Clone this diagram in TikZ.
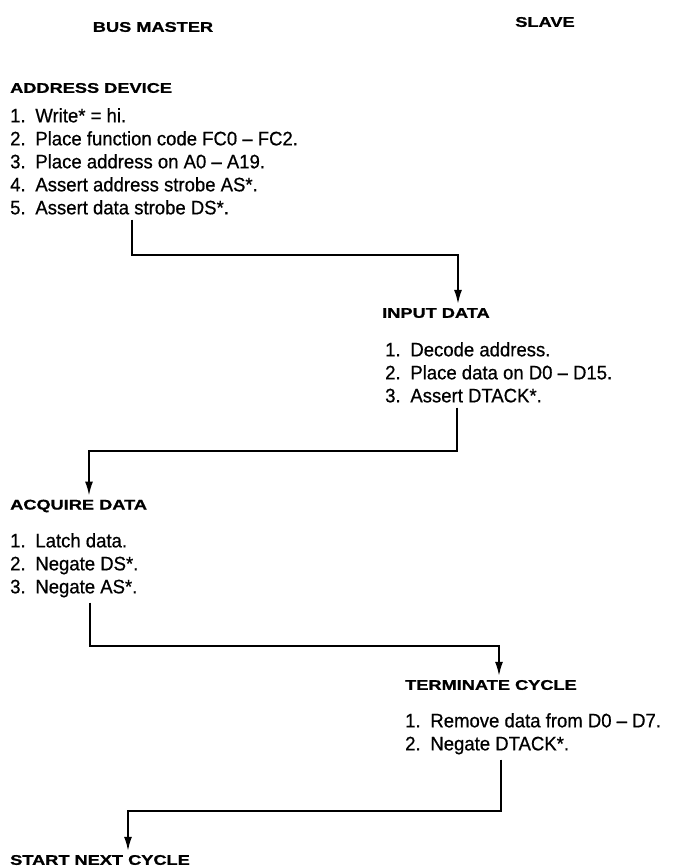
\documentclass[tikz,border=0pt]{standalone}
\usepackage{fontspec}
\setmainfont{Liberation Sans}
\newfontfamily\headfont[FakeStretch=1.3,FakeBold=1]{Liberation Sans}
\newfontfamily\itemfont[FakeStretch=0.95,FakeBold=0.6]{Liberation Sans}
\usetikzlibrary{positioning,arrows.meta}
\newcommand{\nr}[1]{#1.\hspace{0.5em}}
\tikzset{
  colhead/.style ={anchor=center, inner sep=0pt, font=\headfont\bfseries\fontsize{14}{16}\selectfont},
  stephead/.style ={anchor=west, inner xsep=0pt, inner ysep=4pt, font=\headfont\bfseries\fontsize{14}{16}\selectfont},
  steplist/.style ={anchor=north west, align=left, inner xsep=0pt, inner ysep=5pt,
                font=\itemfont\fontsize{19.5}{23}\selectfont},
  flow/.style ={-{Latex[length=14pt,width=8pt]}, line width=1.8pt, line join=miter},
}

\begin{document}
\begin{tikzpicture}[x=1pt,y=-1pt]
\useasboundingbox (0,0) rectangle (678,867);
% column titles
\node[colhead] (master) at (153,27) {BUS MASTER};
\node[colhead] (slave) at (545,22) {SLAVE};
% bus master: address device
\node[stephead] (addrhead) at (10,88) {ADDRESS DEVICE};
\node[steplist] (addrlist) at (10,103) {\nr1Write* = hi.\\ \nr2Place function code FC0 \textendash\ FC2.\\
  \nr3Place address on A0 \textendash\ A19.\\ \nr4Assert address strobe AS*.\\ \nr5Assert data strobe DS*.};
% slave: input data
\node[stephead] (inhead) at (382,313) {INPUT DATA};
\node[steplist] (inlist) at (385,337) {\nr1Decode address.\\ \nr2Place data on D0 \textendash\ D15.\\ \nr3Assert DTACK*.};
% bus master: acquire data
\node[stephead] (acqhead) at (10,506) {ACQUIRE DATA};
\node[steplist] (acqlist) at (10,528) {\nr1Latch data.\\ \nr2Negate DS*.\\ \nr3Negate AS*.};
% slave: terminate cycle
\node[stephead] (termhead) at (405,685) {TERMINATE CYCLE};
\node[steplist] (termlist) at (405,708) {\nr1Remove data from D0 \textendash\ D7.\\ \nr2Negate DTACK*.};
% bus master: next cycle
\node[stephead] (nexthead) at (10,860) {START NEXT CYCLE};
% hand-over lines
\coordinate (b1) at (132,255); \coordinate (e1) at (458,255);
\coordinate (b2) at (457,451); \coordinate (e2) at (89,451);
\coordinate (b3) at (90,646);  \coordinate (e3) at (499,646);
\coordinate (b4) at (501,811); \coordinate (e4) at (128,811);
\draw[flow] (addrlist.south -| b1) -- (b1) -- (e1) -- (e1 |- inhead.north);
\draw[flow] (inlist.south -| b2) -- (b2) -- (e2) -- (e2 |- acqhead.north);
\draw[flow] (acqlist.south -| b3) -- (b3) -- (e3) -- (e3 |- termhead.north);
\draw[flow] (termlist.south -| b4) -- (b4) -- (e4) -- (e4 |- nexthead.north);
\end{tikzpicture}
\end{document}
